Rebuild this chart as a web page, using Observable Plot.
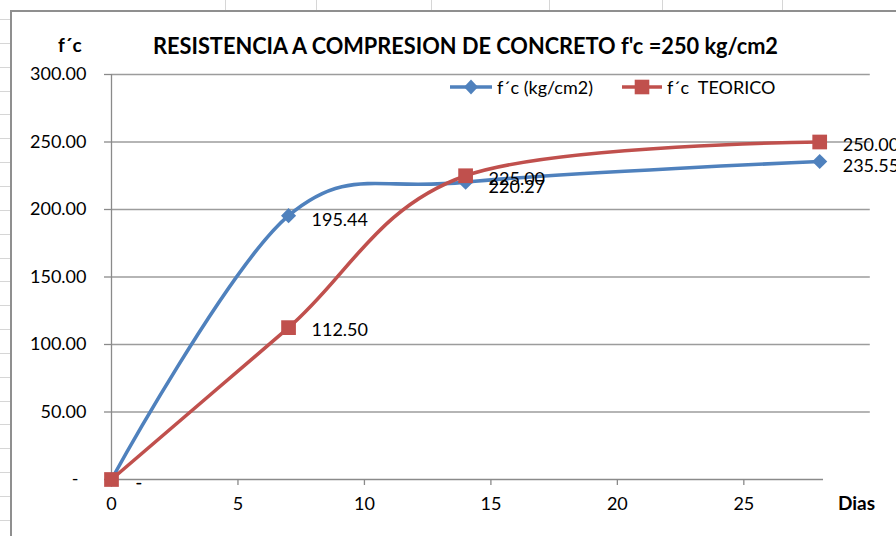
<!DOCTYPE html>
<html><head><meta charset="utf-8">
<script src="https://cdn.jsdelivr.net/npm/d3@7"></script>
<script src="https://cdn.jsdelivr.net/npm/@observablehq/plot@0.6"></script>
<style>
body{margin:0;background:#fff;font-family:Lato,"Open Sans",sans-serif;}
#page{position:relative;width:896px;height:536px;overflow:hidden;background:#fff;}
.abs{position:absolute;}
#box{left:10px;top:10px;width:900px;height:540px;border-left:2px solid #8f8f8f;border-top:2px solid #8f8f8f;background:#fff;}
#title{left:153px;top:31px;font-size:23px;font-weight:700;line-height:28px;white-space:nowrap;transform-origin:0 50%;color:#000;}
#ylab{left:58px;top:33px;font-size:19px;font-weight:700;line-height:24px;color:#000;}
#xlab{left:838px;top:491px;font-size:19px;font-weight:700;line-height:24px;color:#000;}
.leg{top:76px;font-size:18px;line-height:22px;white-space:pre;color:#000;}
#chart{left:0;top:0;}
</style></head>
<body>
<div id="page">
  <div id="cells"></div>
  <div id="box" class="abs"></div>
  <div id="chart" class="abs"></div>
  <div id="title" class="abs"></div>
  <div id="ylab" class="abs"></div>
  <div id="xlab" class="abs"></div>
  <div id="legend"></div>
</div>
<script>
// ---- data ----
const days = [0, 7, 14, 28];
const fcMeasured = [0, 195.44, 220.27, 235.55];
const fcTheoretical = [0, 112.50, 225.00, 250.00];
const seriesNames = ["f´c (kg/cm2)", "f´c  TEORICO"];
const seriesColors = ["#4F81BD", "#C0504D"];
const xTicks = [0, 5, 10, 15, 20, 25];
const yTicks = [0, 50, 100, 150, 200, 250, 300];
const titleText = "RESISTENCIA A COMPRESION DE CONCRETO f'c =250 kg/cm2";
const yLabel = "f´c";
const xLabel = "Dias";

// ---- spreadsheet background cells ----
const cells = document.getElementById("cells");
for (let y = 19; y < 536; y += 23.85) {
  const d = document.createElement("div");
  d.className = "abs";
  d.style.cssText = `left:0;top:${Math.round(y)}px;width:10px;height:1px;background:#d6d6d6`;
  cells.appendChild(d);
}
for (const x of [225, 316, 431, 549, 662, 782]) {
  const d = document.createElement("div");
  d.className = "abs";
  d.style.cssText = `left:${x}px;top:0;width:1px;height:10px;background:#d6d6d6`;
  cells.appendChild(d);
}

const rowsA = days.map((d, i) => ({day: d, value: fcMeasured[i]}));
const rowsB = days.map((d, i) => ({day: d, value: fcTheoretical[i]}));
const zeroRows = rowsA.concat(rowsB).filter(d => d.value === 0);
const fmt = v => v === 0 ? "-" : v.toFixed(2);
const axisColor = "#8a8a8a";

const chart = Plot.plot({
  width: 896, height: 536,
  marginLeft: 111, marginRight: 73, marginTop: 74, marginBottom: 57,
  style: {fontFamily: "Lato, 'Open Sans', sans-serif", fontSize: "18px", background: "transparent", overflow: "visible", color: "#000"},
  x: {domain: [0, 28.15]},
  y: {domain: [0, 300]},
  marks: [
    Plot.ruleY(yTicks.filter(d => d > 0), {y: d => d, x1: 0, x2: 30, stroke: "#9c9c9c", strokeWidth: 1.3}),
    Plot.ruleY([0], {stroke: axisColor, strokeWidth: 1.3}),
    Plot.ruleX([0], {stroke: axisColor, strokeWidth: 1.3}),
    Plot.axisX({ticks: xTicks, tickSize: 6, tickPadding: 12, stroke: axisColor, strokeWidth: 1.3, fill: "#000", label: null, fontSize: 18}),
    Plot.axisY({ticks: yTicks.filter(d => d > 0), tickSize: 7, tickPadding: 18, tickFormat: d => d.toFixed(2), stroke: axisColor, strokeWidth: 1.3, fill: "#000", label: null, fontSize: 18}),
    Plot.axisY({ticks: [0], tickSize: 7, tickPadding: 26, tickFormat: () => "-", stroke: axisColor, strokeWidth: 1.3, fill: "#000", label: null, fontSize: 18}),
    Plot.line(rowsA, {x: "day", y: "value", curve: "cardinal", stroke: seriesColors[0], strokeWidth: 3.6}),
    Plot.dot(rowsA, {x: "day", y: "value", symbol: "diamond2", r: 6.8, fill: seriesColors[0]}),
    Plot.line(rowsB, {x: "day", y: "value", curve: "cardinal", stroke: seriesColors[1], strokeWidth: 3.6}),
    Plot.dot(rowsB, {x: "day", y: "value", symbol: "square", r: 8.3, fill: seriesColors[1]}),
    Plot.text(rowsA.filter(d => d.value !== 0), {x: "day", y: "value", text: d => fmt(d.value), dx: 23, dy: 5, textAnchor: "start", fill: "#000", fontSize: 18}),
    Plot.text(rowsB.filter(d => d.value !== 0), {x: "day", y: "value", text: d => fmt(d.value), dx: 23, dy: 3, textAnchor: "start", fill: "#000", fontSize: 18}),
    Plot.text(zeroRows, {x: "day", y: "value", text: d => fmt(d.value), dx: 24, dy: 4, textAnchor: "start", fill: "#000", fontSize: 18})
  ]
});
document.getElementById("chart").appendChild(chart);

// ---- texts ----
const title = document.getElementById("title");
title.textContent = titleText;
document.getElementById("ylab").textContent = yLabel;
document.getElementById("xlab").textContent = xLabel;

// ---- legend ----
const legend = document.getElementById("legend");
const legX = [[450, 492, 497], [622, 662, 667]];
seriesNames.forEach((name, i) => {
  const [x0, x1, tx] = legX[i];
  const svg = d3.create("svg").attr("class", "abs").attr("width", x1 - x0 + 4).attr("height", 20)
    .style("left", (x0 - 2) + "px").style("top", "77px").style("overflow", "visible");
  svg.append("line").attr("x1", 2).attr("x2", x1 - x0 + 2).attr("y1", 10).attr("y2", 10)
    .attr("stroke", seriesColors[i]).attr("stroke-width", 3.6);
  const cx = 2 + (x1 - x0) / 2;
  if (i === 0) {
    svg.append("path").attr("d", `M${cx},${10 - 7.5}L${cx + 7},10L${cx},${10 + 7.5}L${cx - 7},10Z`).attr("fill", seriesColors[i]);
  } else {
    svg.append("rect").attr("x", cx - 7.3).attr("y", 10 - 7.3).attr("width", 14.6).attr("height", 14.6).attr("fill", seriesColors[i]);
  }
  legend.appendChild(svg.node());
  const t = document.createElement("div");
  t.className = "abs leg";
  t.style.left = tx + "px";
  t.textContent = name;
  legend.appendChild(t);
});

function fit() {
  title.style.transform = "none";
  const w = title.getBoundingClientRect().width;
  title.style.transform = `scaleX(${625 / w})`;
}
fit();
if (document.fonts) document.fonts.ready.then(fit);
</script>
</body></html>
